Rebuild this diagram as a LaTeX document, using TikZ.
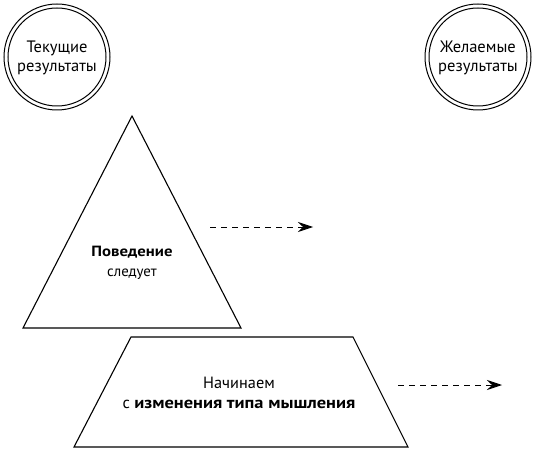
\documentclass[tikz,border=0pt]{standalone}
\usepackage{fontspec}
\setmainfont{PT Sans}[BoldFeatures={FakeStretch=1.13}]
\usetikzlibrary{arrows.meta}
\begin{document}
\begin{tikzpicture}[x=1pt,y=-1pt,
  outline/.style={draw=black, line width=1.1pt, line join=miter},
  ring/.style={draw=black, line width=1pt},
  lbl/.style={align=center, font=\fontsize{16.5}{19}\selectfont, inner sep=0pt},
  flow/.style={dash pattern=on 6pt off 5pt, line width=0.9pt, -{Stealth[length=15pt,width=10pt,inset=5pt]}}]
\useasboundingbox (0,0) rectangle (537,454);
% double circles
\draw[ring] (57,57) circle (53pt) (57,57) circle (49pt);
\node[lbl] (cur) at (57,57.5) {Текущие\\результаты};
\draw[ring] (478,57) circle (53pt) (478,57) circle (49pt);
\node[lbl] (want) at (478,57.5) {Желаемые\\результаты};
% triangle
\coordinate (tA) at (132,116);
\coordinate (tL) at (23,328);
\coordinate (tR) at (241,328);
\draw[outline] (tA) -- (tR) -- (tL) -- cycle;
\node[lbl, font=\fontsize{14.8}{20}\selectfont] (beh) at (132,263) {\textbf{Поведение}\\следует};
% trapezoid
\coordinate (pTL) at (131,337);
\coordinate (pTR) at (353,337);
\coordinate (pBR) at (408,447);
\coordinate (pBL) at (74,447);
\draw[outline] (pTL) -- (pTR) -- (pBR) -- (pBL) -- cycle;
\node[lbl, font=\fontsize{16.3}{20}\selectfont] (start) at (239,393) {Начинаем\\с \textbf{изменения типа мышления}};
% arrows
\coordinate (a1s) at (210,227);
\coordinate (a1e) at (313,227);
\draw[flow] (a1s) -- (a1e);
\coordinate (a2s) at (398,385);
\coordinate (a2e) at (502,385);
\draw[flow] (a2s) -- (a2e);
\end{tikzpicture}
\end{document}
